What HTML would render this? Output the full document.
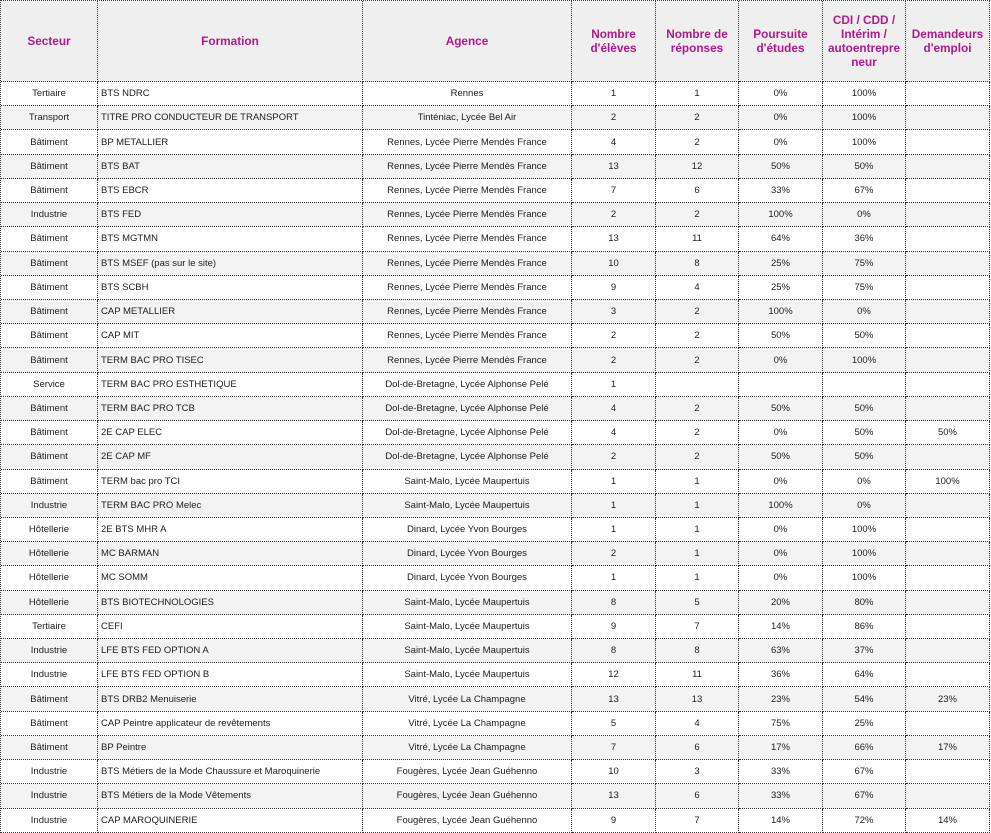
<!DOCTYPE html>
<html><head><meta charset="utf-8"><style>
html,body{margin:0;padding:0;background:#fff;width:991px;height:833px;overflow:hidden}
.g{position:absolute;left:0;top:0;display:grid;grid-template-columns:97px 265px 209px 84px 83px 84px 83px 84px;grid-template-rows:81px repeat(31,24.23px);border-left:1px dotted #333;border-top:1px dotted #333;font-family:"Liberation Sans",Arial,sans-serif;font-size:9.5px;color:#1e1e1e}
.g>div{border-right:1px dotted #333;border-bottom:1px dotted #333;display:flex;align-items:center;justify-content:center;text-align:center;overflow:hidden;white-space:nowrap}
.g>div.h{background:#efefef;color:#b4188c;font-weight:bold;font-size:11.8px;line-height:14px}
.g>div.l{justify-content:flex-start;padding-left:3px;text-align:left}
.g>div.s{background:#f3f3f3}
</style></head><body>
<div class="g" id="g">
<div class="h">Secteur</div><div class="h">Formation</div><div class="h">Agence</div><div class="h">Nombre<br>d'élèves</div><div class="h">Nombre de<br>réponses</div><div class="h">Poursuite<br>d'études</div><div class="h">CDI / CDD /<br>Intérim /<br>autoentrepre<br>neur</div><div class="h">Demandeurs<br>d'emploi</div>

<div>Tertiaire</div><div class="l">BTS NDRC</div><div>Rennes</div><div>1</div><div>1</div><div>0%</div><div>100%</div><div></div>
<div class="s">Transport</div><div class="l s">TITRE PRO CONDUCTEUR DE TRANSPORT</div><div class="s">Tinténiac, Lycée Bel Air</div><div class="s">2</div><div class="s">2</div><div class="s">0%</div><div class="s">100%</div><div class="s"></div>
<div>Bâtiment</div><div class="l">BP METALLIER</div><div>Rennes, Lycée Pierre Mendès France</div><div>4</div><div>2</div><div>0%</div><div>100%</div><div></div>
<div class="s">Bâtiment</div><div class="l s">BTS BAT</div><div class="s">Rennes, Lycée Pierre Mendès France</div><div class="s">13</div><div class="s">12</div><div class="s">50%</div><div class="s">50%</div><div class="s"></div>
<div>Bâtiment</div><div class="l">BTS EBCR</div><div>Rennes, Lycée Pierre Mendès France</div><div>7</div><div>6</div><div>33%</div><div>67%</div><div></div>
<div class="s">Industrie</div><div class="l s">BTS FED</div><div class="s">Rennes, Lycée Pierre Mendès France</div><div class="s">2</div><div class="s">2</div><div class="s">100%</div><div class="s">0%</div><div class="s"></div>
<div>Bâtiment</div><div class="l">BTS MGTMN</div><div>Rennes, Lycée Pierre Mendès France</div><div>13</div><div>11</div><div>64%</div><div>36%</div><div></div>
<div class="s">Bâtiment</div><div class="l s">BTS MSEF (pas sur le site)</div><div class="s">Rennes, Lycée Pierre Mendès France</div><div class="s">10</div><div class="s">8</div><div class="s">25%</div><div class="s">75%</div><div class="s"></div>
<div>Bâtiment</div><div class="l">BTS SCBH</div><div>Rennes, Lycée Pierre Mendès France</div><div>9</div><div>4</div><div>25%</div><div>75%</div><div></div>
<div class="s">Bâtiment</div><div class="l s">CAP METALLIER</div><div class="s">Rennes, Lycée Pierre Mendès France</div><div class="s">3</div><div class="s">2</div><div class="s">100%</div><div class="s">0%</div><div class="s"></div>
<div>Bâtiment</div><div class="l">CAP MIT</div><div>Rennes, Lycée Pierre Mendès France</div><div>2</div><div>2</div><div>50%</div><div>50%</div><div></div>
<div class="s">Bâtiment</div><div class="l s">TERM BAC PRO TISEC</div><div class="s">Rennes, Lycée Pierre Mendès France</div><div class="s">2</div><div class="s">2</div><div class="s">0%</div><div class="s">100%</div><div class="s"></div>
<div>Service</div><div class="l">TERM BAC PRO ESTHETIQUE</div><div>Dol-de-Bretagne, Lycée Alphonse Pelé</div><div>1</div><div></div><div></div><div></div><div></div>
<div class="s">Bâtiment</div><div class="l s">TERM BAC PRO TCB</div><div class="s">Dol-de-Bretagne, Lycée Alphonse Pelé</div><div class="s">4</div><div class="s">2</div><div class="s">50%</div><div class="s">50%</div><div class="s"></div>
<div>Bâtiment</div><div class="l">2E CAP ELEC</div><div>Dol-de-Bretagne, Lycée Alphonse Pelé</div><div>4</div><div>2</div><div>0%</div><div>50%</div><div>50%</div>
<div class="s">Bâtiment</div><div class="l s">2E CAP MF</div><div class="s">Dol-de-Bretagne, Lycée Alphonse Pelé</div><div class="s">2</div><div class="s">2</div><div class="s">50%</div><div class="s">50%</div><div class="s"></div>
<div>Bâtiment</div><div class="l">TERM bac pro TCI</div><div>Saint-Malo, Lycée Maupertuis</div><div>1</div><div>1</div><div>0%</div><div>0%</div><div>100%</div>
<div class="s">Industrie</div><div class="l s">TERM BAC PRO Melec</div><div class="s">Saint-Malo, Lycée Maupertuis</div><div class="s">1</div><div class="s">1</div><div class="s">100%</div><div class="s">0%</div><div class="s"></div>
<div>Hôtellerie</div><div class="l">2E BTS MHR A</div><div>Dinard, Lycée Yvon Bourges</div><div>1</div><div>1</div><div>0%</div><div>100%</div><div></div>
<div class="s">Hôtellerie</div><div class="l s">MC BARMAN</div><div class="s">Dinard, Lycée Yvon Bourges</div><div class="s">2</div><div class="s">1</div><div class="s">0%</div><div class="s">100%</div><div class="s"></div>
<div>Hôtellerie</div><div class="l">MC SOMM</div><div>Dinard, Lycée Yvon Bourges</div><div>1</div><div>1</div><div>0%</div><div>100%</div><div></div>
<div class="s">Hôtellerie</div><div class="l s">BTS BIOTECHNOLOGIES</div><div class="s">Saint-Malo, Lycée Maupertuis</div><div class="s">8</div><div class="s">5</div><div class="s">20%</div><div class="s">80%</div><div class="s"></div>
<div>Tertiaire</div><div class="l">CEFI</div><div>Saint-Malo, Lycée Maupertuis</div><div>9</div><div>7</div><div>14%</div><div>86%</div><div></div>
<div class="s">Industrie</div><div class="l s">LFE BTS FED OPTION A</div><div class="s">Saint-Malo, Lycée Maupertuis</div><div class="s">8</div><div class="s">8</div><div class="s">63%</div><div class="s">37%</div><div class="s"></div>
<div>Industrie</div><div class="l">LFE BTS FED OPTION B</div><div>Saint-Malo, Lycée Maupertuis</div><div>12</div><div>11</div><div>36%</div><div>64%</div><div></div>
<div class="s">Bâtiment</div><div class="l s">BTS DRB2 Menuiserie</div><div class="s">Vitré, Lycée La Champagne</div><div class="s">13</div><div class="s">13</div><div class="s">23%</div><div class="s">54%</div><div class="s">23%</div>
<div>Bâtiment</div><div class="l">CAP Peintre applicateur de revêtements</div><div>Vitré, Lycée La Champagne</div><div>5</div><div>4</div><div>75%</div><div>25%</div><div></div>
<div class="s">Bâtiment</div><div class="l s">BP Peintre</div><div class="s">Vitré, Lycée La Champagne</div><div class="s">7</div><div class="s">6</div><div class="s">17%</div><div class="s">66%</div><div class="s">17%</div>
<div>Industrie</div><div class="l">BTS Métiers de la Mode Chaussure et Maroquinerie</div><div>Fougères, Lycée Jean Guéhenno</div><div>10</div><div>3</div><div>33%</div><div>67%</div><div></div>
<div class="s">Industrie</div><div class="l s">BTS Métiers de la Mode Vêtements</div><div class="s">Fougères, Lycée Jean Guéhenno</div><div class="s">13</div><div class="s">6</div><div class="s">33%</div><div class="s">67%</div><div class="s"></div>
<div>Industrie</div><div class="l">CAP MAROQUINERIE</div><div>Fougères, Lycée Jean Guéhenno</div><div>9</div><div>7</div><div>14%</div><div>72%</div><div>14%</div>
</div>
</body></html>
